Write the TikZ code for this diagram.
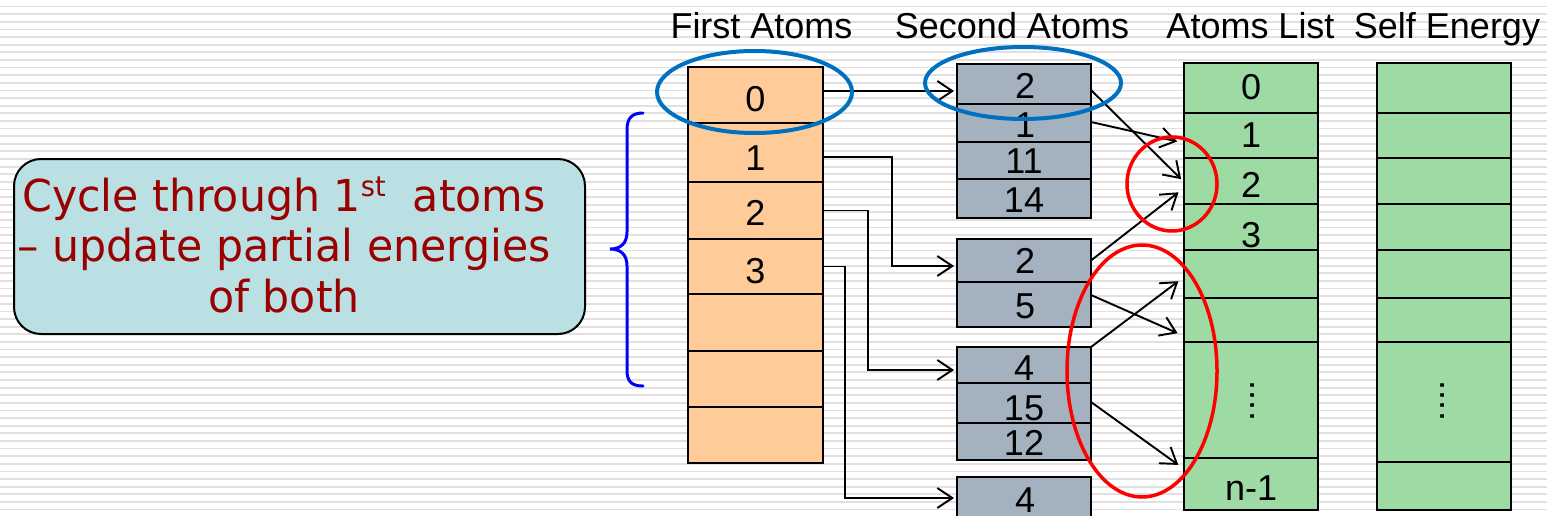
\documentclass[tikz,border=0pt]{standalone}
\usepackage{fontspec}
\setmainfont{Liberation Sans}
\newfontfamily\notefont[FakeStretch=0.97]{DejaVu Sans}
\usetikzlibrary{arrows.meta}

\definecolor{stripe}{RGB}{224,224,224}
\definecolor{peach}{RGB}{255,204,153}
\definecolor{slate}{RGB}{164,178,192}
\definecolor{mint}{RGB}{158,219,164}
\definecolor{notefill}{RGB}{187,224,227}
\definecolor{notetext}{RGB}{153,0,0}
\definecolor{ringblue}{RGB}{0,112,192}
\definecolor{ringred}{RGB}{255,0,0}
\definecolor{bracecol}{RGB}{0,0,255}

\tikzset{
  cell/.style={draw=black, line width=2pt, rectangle, inner sep=0pt, outer sep=0pt, anchor=north west},
  first/.style={cell, fill=peach, minimum width=135pt},
  second/.style={cell, fill=slate, minimum width=134pt},
  listcell/.style={cell, fill=mint, minimum width=134pt},
  num/.style={anchor=base, inner sep=0pt, font=\fontsize{36}{40}\selectfont},
  dots/.style={inner sep=0pt, rotate=90, font=\fontsize{36}{40}\selectfont},
  notetxt/.style={anchor=base, inner sep=0pt, text=notetext, font=\notefont\fontsize{44}{50}\selectfont},
  link/.style={draw=black, line width=1.9pt, -{Straight Barb[length=15pt,width=20pt,line width=1.9pt]}},
  ringb/.style={draw=ringblue, line width=4pt},
  ringr/.style={draw=ringred, line width=3.5pt},
}

\begin{document}
\begin{tikzpicture}[x=1pt, y=-1pt]
  \clip (0,0) rectangle (1547,516);

  % striped background
  \fill[white] (0,0) rectangle (1547,516);
  \foreach \k in {0,...,68}
    \fill[stripe] (0,{6.6+7.62*\k-0.9}) rectangle (1547,{6.6+7.62*\k+0.9});

  % explanatory note
  \node[draw=black, line width=2pt, fill=notefill, rounded corners=27pt,
        minimum width=571pt, minimum height=175pt, inner sep=0pt, anchor=north west] (note) at (13,158) {};
  \node[notetxt] (noteA) at (284,211) {Cycle through 1\raisebox{15pt}{\fontsize{28}{28}\selectfont st}\ \ atoms};
  \node[notetxt] (noteB) at (284,261) {– update partial energies};
  \node[notetxt] (noteC) at (284,312) {of both};

  % brace over the first atoms
  \draw[bracecol, line width=3pt, line cap=round]
    (643,113) .. controls (632,113) and (627,118) .. (627,130) -- (627,232)
    .. controls (627,244) and (620,249) .. (610,249)
    .. controls (620,249) and (627,254) .. (627,266) -- (627,370)
    .. controls (627,382) and (632,386) .. (643,386);

  % column headings
  \node[num] (hFirst)  at (761.5,39) {First Atoms};
  \node[num] (hSecond) at (1012,39)  {Second Atoms};
  \node[num] (hList)   at (1250.5,39) {Atoms List};
  \node[num] (hSelf)   at (1447,39)  {Self Energy};

  % first atoms
  \node[first, minimum height=56pt] (F0) at (688,67)  {};
  \node[first, minimum height=59pt] (F1) at (688,123) {};
  \node[first, minimum height=57pt] (F2) at (688,182) {};
  \node[first, minimum height=55pt] (F3) at (688,239) {};
  \node[first, minimum height=57pt] (F4) at (688,294) {};
  \node[first, minimum height=56pt] (F5) at (688,351) {};
  \node[first, minimum height=56pt] (F6) at (688,407) {};
  \node[num] (f0) at (755.5,112) {0};
  \node[num] (f1) at (755.5,170) {1};
  \node[num] (f2) at (755.5,225) {2};
  \node[num] (f3) at (755.5,283) {3};

  % second atoms, one block per first atom
  \node[second, minimum height=40pt] (Sa1) at (957,64)  {};
  \node[second, minimum height=38pt] (Sa2) at (957,104) {};
  \node[second, minimum height=37pt] (Sa3) at (957,142) {};
  \node[second, minimum height=39pt] (Sa4) at (957,179) {};
  \node[second, minimum height=43pt] (Sb1) at (957,239) {};
  \node[second, minimum height=45pt] (Sb2) at (957,282) {};
  \node[second, minimum height=36pt] (Sc1) at (957,347) {};
  \node[second, minimum height=40pt] (Sc2) at (957,383) {};
  \node[second, minimum height=37pt] (Sc3) at (957,423) {};
  \node[second, minimum height=63pt] (Sd1) at (957,477) {};
  \node[num] (sa1) at (1025,99)  {2};
  \node[num] (sa2) at (1025,138) {1};
  \node[num] (sa3) at (1024,173) {11};
  \node[num] (sa4) at (1024,212) {14};
  \node[num] (sb1) at (1025,273) {2};
  \node[num] (sb2) at (1025,318) {5};
  \node[num] (sc1) at (1024,380) {4};
  \node[num] (sc2) at (1024,420) {15};
  \node[num] (sc3) at (1024,455) {12};
  \node[num] (sd1) at (1025,512) {4};

  % atoms list
  \node[listcell, minimum height=50pt]  (L0) at (1184,63)  {};
  \node[listcell, minimum height=45pt]  (L1) at (1184,113) {};
  \node[listcell, minimum height=46pt]  (L2) at (1184,158) {};
  \node[listcell, minimum height=46pt]  (L3) at (1184,204) {};
  \node[listcell, minimum height=48pt]  (L4) at (1184,250) {};
  \node[listcell, minimum height=44pt]  (L5) at (1184,298) {};
  \node[listcell, minimum height=116pt] (L6) at (1184,342) {};
  \node[listcell, minimum height=52pt]  (L7) at (1184,458) {};
  \node[num] (l0) at (1251,100) {0};
  \node[num] (l1) at (1251,147) {1};
  \node[num] (l2) at (1251,197) {2};
  \node[num] (l3) at (1251,247) {3};
  \node[num] (l7) at (1251,500) {n-1};
  \node[dots] (l6) at (1253,401) {....};

  % self energy
  \node[listcell, minimum height=50pt]  (E0) at (1377,63)  {};
  \node[listcell, minimum height=45pt]  (E1) at (1377,113) {};
  \node[listcell, minimum height=46pt]  (E2) at (1377,158) {};
  \node[listcell, minimum height=46pt]  (E3) at (1377,204) {};
  \node[listcell, minimum height=48pt]  (E4) at (1377,250) {};
  \node[listcell, minimum height=44pt]  (E5) at (1377,298) {};
  \node[listcell, minimum height=120pt] (E6) at (1377,342) {};
  \node[listcell, minimum height=48pt]  (E7) at (1377,462) {};
  \node[dots] (e6) at (1443,401) {....};

  % first atom -> its second atoms
  \draw[link, shorten >=3pt] ([yshift=4pt]F0.east) -- ([yshift=-7pt]Sa1.west);
  \draw[link, shorten >=3pt] ([yshift=-4.5pt]F1.east) -- ++(69,0) |- ([yshift=-5.5pt]Sb1.west);
  \draw[link, shorten >=3pt] (F2.east) -- ++(45,0) |- ([yshift=-5pt]Sc1.west);
  \draw[link, shorten >=3pt] (F3.east) -- ++(22,0) |- ([yshift=10.5pt]Sd1.west);

  % second atoms -> atoms list
  \draw[link, shorten >=4pt] ([yshift=-6pt]Sa1.east) -- ([yshift=-1pt]L2.west);
  \draw[link, shorten >=7pt] ([yshift=1pt]Sa2.east) -- ([yshift=-7.5pt]L1.west);
  \draw[link, shorten >=7pt] (Sb1.east) -- ([yshift=-7pt]L2.west);
  \draw[link, shorten >=7pt] ([yshift=9.5pt]Sb2.east) -- ([yshift=-16pt]L5.west);
  \draw[link, shorten >=7pt] (Sc1.north east) -- ([yshift=-3pt]L4.west);
  \draw[link, shorten >=7pt] ([yshift=1pt]Sc2.east) -- ([yshift=15pt]L7.west);

  % highlight rings
  \draw[ringb] (754.5,92) ellipse [x radius=97.5pt, y radius=41pt];
  \draw[ringb] (1023,83) ellipse [x radius=98pt, y radius=36pt];
  \draw[ringr] (1172,184) ellipse [x radius=45pt, y radius=47pt];
  \draw[ringr] (1142,371) ellipse [x radius=75pt, y radius=126pt];
\end{tikzpicture}
\end{document}
